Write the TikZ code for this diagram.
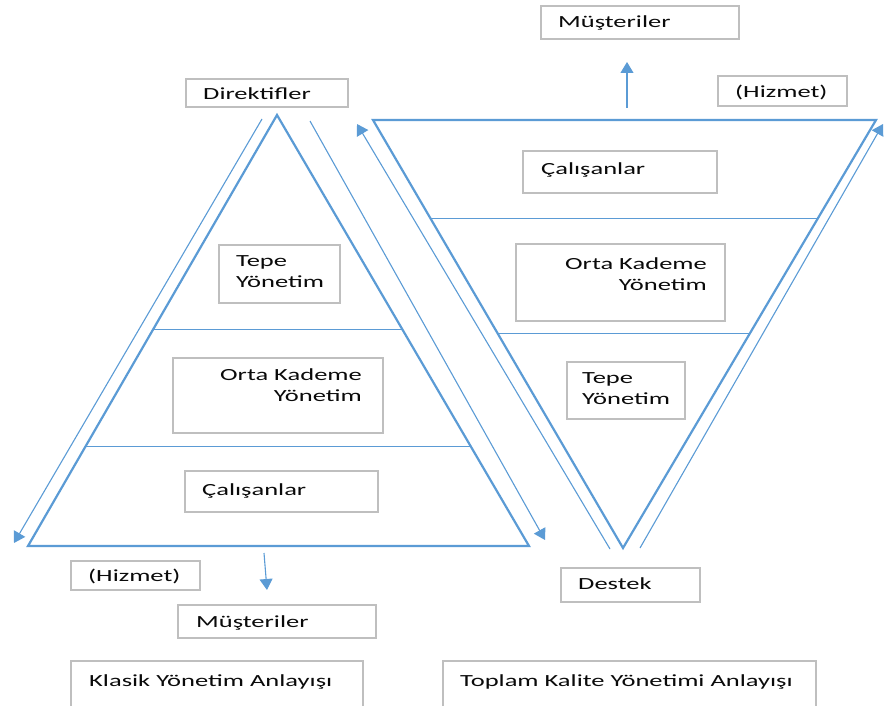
\documentclass[tikz,border=0pt]{standalone}
\usepackage{fontspec}
\setmainfont{Carlito}[FakeStretch=1.56]
\usetikzlibrary{arrows.meta,calc}

\definecolor{edgeblue}{RGB}{91,155,213}
\definecolor{framegray}{RGB}{191,191,191}
\definecolor{ink}{RGB}{10,10,10}

\tikzset{
  box/.style={draw=framegray, line width=1.6pt, rectangle, inner sep=0pt, anchor=north west},
  lbl/.style={font=\fontsize{17}{21}\selectfont, text=ink, inner sep=0pt, anchor=base west},
  lblr/.style={lbl, anchor=base east},
  pyramid/.style={draw=edgeblue, line width=2.2pt, line join=miter},
  divider/.style={draw=edgeblue, line width=1pt},
  flow/.style={draw=edgeblue, line width=1.1pt, -{Triangle[length=11pt,width=13pt]}},
}

\begin{document}
\begin{tikzpicture}[x=1pt,y=-1pt]
\useasboundingbox (0,0) rectangle (884,706);

% ---- classic pyramid ----
\coordinate (LA) at (277,115);
\coordinate (LL) at (28,546);
\coordinate (LR) at (529,546);
\draw[pyramid] (LA) -- (LR) -- (LL) -- cycle;
\draw[divider] ($(LA)!0.4988!(LL)$) -- ($(LA)!0.4988!(LR)$);
\draw[divider] ($(LA)!0.7703!(LL)$) -- ($(LA)!0.7703!(LR)$);

% ---- inverted pyramid ----
\coordinate (RL) at (373,120);
\coordinate (RR) at (876,120);
\coordinate (RB) at (623,548);
\draw[pyramid] (RL) -- (RR) -- (RB) -- cycle;
\draw[divider] ($(RL)!0.2313!(RB)$) -- ($(RR)!0.2313!(RB)$);
\draw[divider] ($(RL)!0.4977!(RB)$) -- ($(RR)!0.4977!(RB)$);

% ---- flow arrows along the sides ----
\coordinate (f1s) at (262,119);  \coordinate (f1e) at (14,543);
\coordinate (f2s) at (310,121);  \coordinate (f2e) at (545,540);
\coordinate (f3s) at (610,549);  \coordinate (f3e) at (357,124);
\coordinate (f4s) at (640,548);  \coordinate (f4e) at (883,124);
\draw[flow] (f1s) -- (f1e);
\draw[flow] (f2s) -- (f2e);
\draw[flow] (f3s) -- (f3e);
\draw[flow] (f4s) -- (f4e);

% ---- boxes ----
\node[box, minimum width=198pt, minimum height=33pt] (mustTop) at (540,5) {};
\node[box, minimum width=162pt, minimum height=28pt] (direk) at (185,78) {};
\node[box, minimum width=129pt, minimum height=30pt] (hizTop) at (717,75) {};
\node[box, minimum width=194pt, minimum height=42pt] (calR) at (522,150) {};
\node[box, minimum width=209pt, minimum height=77pt] (ortaR) at (515,243) {};
\node[box, minimum width=118pt, minimum height=57pt] (tepeR) at (566,361) {};
\node[box, minimum width=121pt, minimum height=58pt] (tepeL) at (218,244) {};
\node[box, minimum width=210pt, minimum height=75pt] (ortaL) at (172,357) {};
\node[box, minimum width=193pt, minimum height=41pt] (calL) at (184,470) {};
\node[box, minimum width=129pt, minimum height=29pt] (hizL) at (70,560) {};
\node[box, minimum width=198pt, minimum height=33pt] (mustL) at (177,604) {};
\node[box, minimum width=139pt, minimum height=34pt] (destek) at (560,567) {};
\node[box, minimum width=292pt, minimum height=52pt] (klasik) at (70,660) {};
\node[box, minimum width=373pt, minimum height=52pt] (toplam) at (442,660) {};

% ---- labels ----
\node[lbl] (tMustTop) at (558,28) {Müşteriler};
\node[lbl] (tDirek) at (203,100) {Direktifler};
\node[lbl] (tHizTop) at (735,98) {(Hizmet)};
\node[lbl] (tCalR) at (541,175) {Çalışanlar};
\node[lblr] (tOrtaR1) at (707,269) {Orta Kademe};
\node[lblr] (tOrtaR2) at (707,290) {Yönetim};
\node[lbl] (tTepeR1) at (582,383) {Tepe};
\node[lbl] (tTepeR2) at (582,404) {Yönetim};
\node[lbl] (tTepeL1) at (236,266) {Tepe};
\node[lbl] (tTepeL2) at (236,287) {Yönetim};
\node[lblr] (tOrtaL1) at (362,380) {Orta Kademe};
\node[lblr] (tOrtaL2) at (362,401) {Yönetim};
\node[lbl] (tCalL) at (202,495) {Çalışanlar};
\node[lbl] (tHizL) at (88,581) {(Hizmet)};
\node[lbl] (tMustL) at (196,627) {Müşteriler};
\node[lbl] (tDestek) at (578,589) {Destek};
\node[lbl] (tKlasik) at (89,686) {Klasik Yönetim Anlayışı};
\node[lbl] (tToplam) at (460,686) {Toplam Kalite Yönetimi Anlayışı};

% ---- arrows towards the customers ----
\coordinate (upFrom) at (627,108);
\coordinate (upTo) at (627,62);
\draw[flow] (upFrom) -- (upTo);
\coordinate (downFrom) at (264,553);
\coordinate (downTo) at (267,590);
\draw[flow] (downFrom) -- (downTo);
\end{tikzpicture}
\end{document}
